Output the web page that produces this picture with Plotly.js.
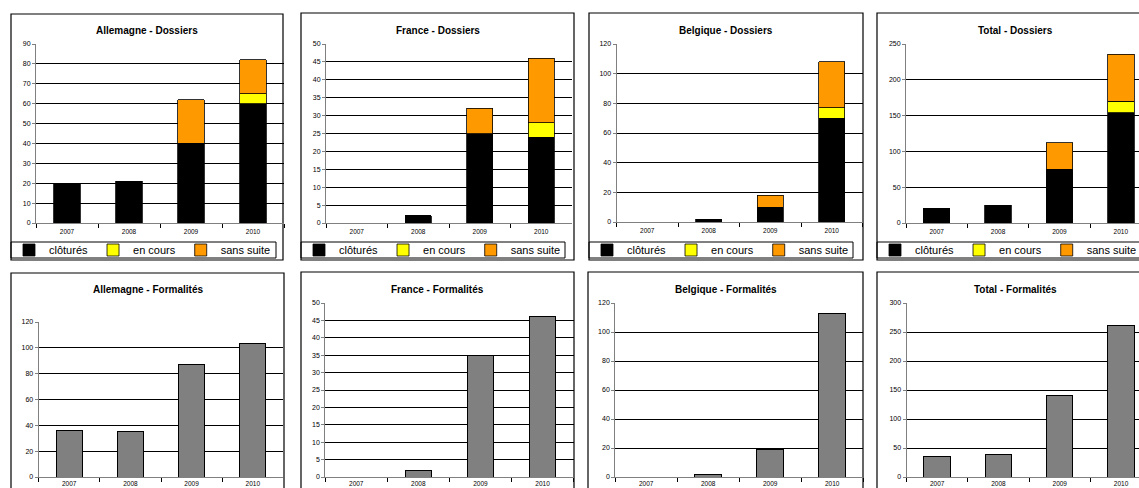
<!DOCTYPE html>
<html>
<head>
<meta charset="utf-8">
<script src="https://cdn.plot.ly/plotly-3.0.1.min.js"></script>
<style>
html,body{margin:0;padding:0;overflow:hidden;background:#fff;}
#chart{width:1170px;height:500px;}
</style>
</head>
<body>
<div id="chart"></div>
<script>
// ---------- DATA ----------
const years = ['2007', '2008', '2009', '2010'];
const seriesNames = ['clôturés', 'en cours', 'sans suite'];

// Dossiers (stacked)
const deClotures = [20, 21, 40, 60];
const deEnCours = [0, 0, 0, 5];
const deSansSuite = [0, 0, 22, 17];

const frClotures = [0, 2, 25, 24];
const frEnCours = [0, 0, 0, 4];
const frSansSuite = [0, 0, 7, 18];

const beClotures = [0, 2, 10, 70];
const beEnCours = [0, 0, 0, 7];
const beSansSuite = [0, 0, 8, 31];

const totClotures = [20, 25, 75, 154];
const totEnCours = [0, 0, 0, 16];
const totSansSuite = [0, 0, 37, 66];

// Formalités
const deFormalites = [36, 35, 87, 103];
const frFormalites = [0, 2, 35, 46];
const beFormalites = [0, 2, 19, 113];
const totFormalites = [36, 38, 141, 262];

const dossierTitles = ['Allemagne - Dossiers', 'France - Dossiers', 'Belgique - Dossiers', 'Total - Dossiers'];
const formaliteTitles = ['Allemagne - Formalités', 'France - Formalités', 'Belgique - Formalités', 'Total - Formalités'];

// ---------- LAYOUT GEOMETRY (pixels) ----------
const W = 1170, H = 500;
const fx = p => p / W;
const fy = p => 1 - p / H;

const colors = ['#000000', '#FFFF00', '#FF9900'];
const FONT = 'Liberation Sans, Arial, sans-serif';

const dossierData = [
  [deClotures, deEnCours, deSansSuite],
  [frClotures, frEnCours, frSansSuite],
  [beClotures, beEnCours, beSansSuite],
  [totClotures, totEnCours, totSansSuite]
];
const formaliteData = [deFormalites, frFormalites, beFormalites, totFormalites];

const panels = [
  {plot: [36, 284, 44, 223], max: 90, dtick: 10, box: [11, 283, 14, 260], legBox: [11, 276], titleY: 30},
  {plot: [326, 572, 44, 223], max: 50, dtick: 5, box: [301, 574, 13, 260], legBox: [301, 565], titleY: 30},
  {plot: [616.5, 862.5, 44, 222], max: 120, dtick: 20, box: [589, 863, 13, 260], legBox: [589, 853], titleY: 30},
  {plot: [906, 1151.5, 44, 223], max: 250, dtick: 50, box: [877, 1154, 13, 260], legBox: [877, 1144], titleY: 30},
  {plot: [38.6, 283.4, 322, 477], max: 120, dtick: 20, box: [11, 284, 273, 520], titleY: 289},
  {plot: [325.2, 573.6, 303, 477], max: 50, dtick: 5, box: [301, 574, 272, 520], titleY: 289},
  {plot: [615.2, 863.2, 303, 477], max: 120, dtick: 20, box: [588, 863, 272, 520], titleY: 289},
  {plot: [906.5, 1151.7, 303, 477], max: 300, dtick: 50, box: [877, 1154, 272, 520], titleY: 289}
];

const traces = [];
const layout = {
  width: W, height: H,
  margin: {l: 0, r: 0, t: 0, b: 0},
  paper_bgcolor: '#fff', plot_bgcolor: '#fff',
  barmode: 'stack', bargap: 0.57,
  font: {family: FONT, color: '#000'},
  shapes: [], annotations: [],
  showlegend: true
};

panels.forEach((p, i) => {
  const k = i + 1;
  const xa = k === 1 ? 'xaxis' : 'xaxis' + k;
  const ya = k === 1 ? 'yaxis' : 'yaxis' + k;
  const xr = k === 1 ? 'x' : 'x' + k;
  const yr = k === 1 ? 'y' : 'y' + k;
  layout[xa] = {
    type: 'category', domain: [fx(p.plot[0]), fx(p.plot[1])], anchor: yr,
    showline: true, linecolor: '#808080', linewidth: 1,
    ticks: 'outside', tickson: 'boundaries', ticklen: 4, tickcolor: '#000', tickwidth: 1,
    ticklabelstandoff: i < 4 ? 2 : 0,
    tickfont: {size: 6.5, family: FONT, color: '#000'},
    showgrid: false, zeroline: false, fixedrange: true
  };
  layout[ya] = {
    domain: [fy(p.plot[3]), fy(p.plot[2])], anchor: xr,
    range: [0, p.max], dtick: p.dtick, tick0: 0,
    showline: true, linecolor: '#808080', linewidth: 1,
    ticks: 'outside', ticklen: 3, tickcolor: '#808080',
    tickfont: {size: 7, family: FONT, color: '#000'},
    showgrid: true, gridcolor: '#000', gridwidth: 1, zeroline: false, fixedrange: true
  };
  layout.shapes.push({type: 'rect', xref: 'paper', yref: 'paper',
    x0: fx(p.box[0]), x1: fx(p.box[1]), y0: fy(p.box[3]), y1: fy(p.box[2]),
    line: {color: '#000', width: 1.2}, fillcolor: 'rgba(0,0,0,0)', layer: 'below'});
  const title = i < 4 ? dossierTitles[i] : formaliteTitles[i - 4];
  layout.annotations.push({xref: 'paper', yref: 'paper',
    x: fx((p.box[0] + p.box[1]) / 2), y: fy(p.titleY), xanchor: 'center', yanchor: 'middle',
    text: '<b>' + title + '</b>', showarrow: false, font: {size: 10, family: FONT, color: '#000'}});

  if (i < 4) {
    const legName = k === 1 ? 'legend' : 'legend' + k;
    layout.shapes.push({type: 'rect', xref: 'paper', yref: 'paper',
      x0: fx(p.legBox[0]), x1: fx(p.legBox[1]), y0: fy(258), y1: fy(242),
      line: {color: '#000', width: 1}, fillcolor: 'rgba(0,0,0,0)'});
    layout[legName] = {
      orientation: 'h', traceorder: 'normal',
      x: fx(p.legBox[0] - 2), y: fy(250), xanchor: 'left', yanchor: 'middle',
      bgcolor: 'rgba(0,0,0,0)', borderwidth: 0,
      font: {size: 11, family: FONT, color: '#000'},
      itemwidth: 30,
      itemclick: false, itemdoubleclick: false
    };
    dossierData[i].forEach((vals, s) => {
      traces.push({
        type: 'bar', x: years, y: vals, name: seriesNames[s],
        xaxis: xr, yaxis: yr, legend: legName, showlegend: true,
        marker: {color: colors[s], line: {color: '#000', width: 0.8}},
        hoverinfo: 'x+y+name'
      });
    });
  } else {
    traces.push({
      type: 'bar', x: years, y: formaliteData[i - 4], name: title,
      xaxis: xr, yaxis: yr, showlegend: false,
      marker: {color: '#808080', line: {color: '#000', width: 1}},
      hoverinfo: 'x+y'
    });
  }
});

Plotly.newPlot('chart', traces, layout, {displayModeBar: false, staticPlot: true});
</script>
</body>
</html>
